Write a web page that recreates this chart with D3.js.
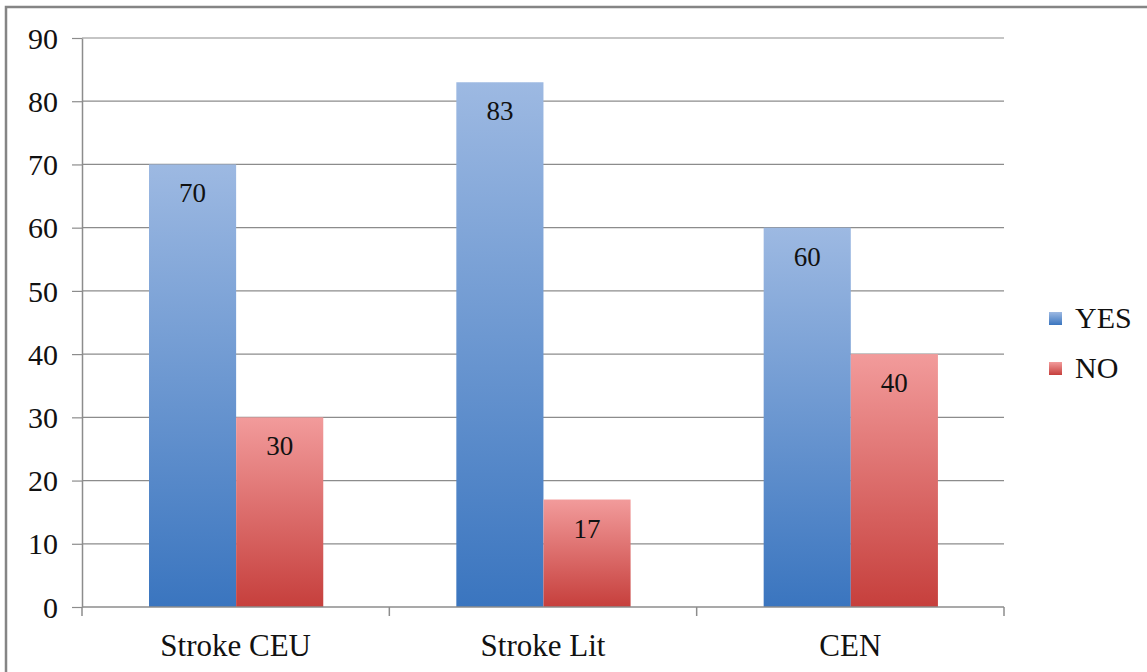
<!DOCTYPE html>
<html>
<head>
<meta charset="utf-8">
<script src="https://cdn.jsdelivr.net/npm/d3@7"></script>
<style>
  body { margin: 0; background: #fff; }
  svg { display: block; font-family: "Liberation Serif", "Times New Roman", serif; }
</style>
</head>
<body>
<div id="chart"></div>
<script>
var categories = ["Stroke CEU", "Stroke Lit", "CEN"],
    series = ["YES", "NO"],
    yesValues = [70, 83, 60],
    noValues = [30, 17, 40],
    yTicks = [0, 10, 20, 30, 40, 50, 60, 70, 80, 90];

var values = { YES: yesValues, NO: noValues };

var W = 1147, H = 672;
var margin = {top: 38, left: 82, right: 143, bottom: 65},
    width = W - margin.left - margin.right,
    height = H - margin.top - margin.bottom;

var svg = d3.select("#chart").append("svg")
    .attr("width", W)
    .attr("height", H);

// gradients
var defs = svg.append("defs");
function grad(id, top, bottom) {
  var g = defs.append("linearGradient").attr("id", id)
      .attr("x1", 0).attr("y1", 0).attr("x2", 0).attr("y2", 1);
  g.append("stop").attr("offset", "0%").attr("stop-color", top);
  g.append("stop").attr("offset", "100%").attr("stop-color", bottom);
}
grad("g-YES", "#9db9e2", "#3a75bf");
grad("g-NO", "#f29b9b", "#c63f3c");

// outer frame
svg.append("rect")
    .attr("x", 6).attr("y", 7)
    .attr("width", W + 10).attr("height", H + 10)
    .attr("fill", "none")
    .attr("stroke", "#858585")
    .attr("stroke-width", 2.5);

var g = svg.append("g")
    .attr("transform", "translate(" + margin.left + "," + margin.top + ")");

var x0 = d3.scaleBand().domain(categories).range([0, width]);
var bw = x0.bandwidth();
var x1 = d3.scaleBand().domain(series).range([bw * 0.218, bw * 0.785]);

var y = d3.scaleLinear().domain([0, 90]).range([height, 0]);

// grid
g.append("g")
    .selectAll("line")
    .data(yTicks.slice(1))
    .enter().append("line")
    .attr("x1", 0).attr("x2", width)
    .attr("y1", function(d) { return y(d); })
    .attr("y2", function(d) { return y(d); })
    .attr("stroke", "#8c8c8c")
    .attr("stroke-width", 1.2);

// bars
var group = g.selectAll(".cat")
    .data(categories)
  .enter().append("g")
    .attr("class", "cat")
    .attr("transform", function(d) { return "translate(" + x0(d) + ",0)"; });

series.forEach(function(s) {
  group.append("rect")
      .attr("x", x1(s))
      .attr("width", x1.bandwidth())
      .attr("y", function(d, i) { return y(values[s][i]); })
      .attr("height", function(d, i) { return height - y(values[s][i]); })
      .attr("fill", "url(#g-" + s + ")");
  group.append("text")
      .attr("x", x1(s) + x1.bandwidth() / 2)
      .attr("y", function(d, i) { return y(values[s][i]) + 38; })
      .attr("text-anchor", "middle")
      .attr("font-size", 27)
      .attr("fill", "#111")
      .text(function(d, i) { return values[s][i]; });
});

// y axis
var yAxis = g.append("g")
    .call(d3.axisLeft(y).tickValues(yTicks).tickSizeInner(10).tickSizeOuter(0).tickPadding(14));
yAxis.attr("font-size", 30).attr("font-family", "Liberation Serif, serif");
yAxis.select(".domain").attr("stroke", "#8c8c8c").attr("stroke-width", 1.5);
yAxis.selectAll(".tick line").attr("stroke", "#8c8c8c").attr("stroke-width", 1.2);
yAxis.selectAll("text").attr("fill", "#111").attr("dy", "0.34em");

// x axis
var xAxisG = g.append("g").attr("transform", "translate(0," + height + ")");
xAxisG.append("line")
    .attr("x1", 0).attr("x2", width)
    .attr("stroke", "#8c8c8c").attr("stroke-width", 1.5);
xAxisG.selectAll(".xt")
    .data(categories.map(function(c) { return x0(c); }).concat([width]))
    .enter().append("line")
    .attr("x1", function(d) { return d; }).attr("x2", function(d) { return d; })
    .attr("y1", 0).attr("y2", 9)
    .attr("stroke", "#8c8c8c").attr("stroke-width", 1.5);
xAxisG.selectAll(".xl")
    .data(categories)
  .enter().append("text")
    .attr("x", function(d) { return x0(d) + bw / 2; })
    .attr("y", 49)
    .attr("text-anchor", "middle")
    .attr("font-size", 31)
    .attr("fill", "#111")
    .text(function(d) { return d; });

// legend
var legend = svg.append("g").attr("transform", "translate(1049,0)");
series.forEach(function(s, i) {
  var ly = 318 + i * 50;
  legend.append("rect")
      .attr("x", 0).attr("y", ly - 6)
      .attr("width", 13).attr("height", 13)
      .attr("fill", "url(#g-" + s + ")");
  legend.append("text")
      .attr("x", 26).attr("y", ly + 10)
      .attr("font-size", 30)
      .attr("fill", "#111")
      .text(s);
});
</script>
</body>
</html>
